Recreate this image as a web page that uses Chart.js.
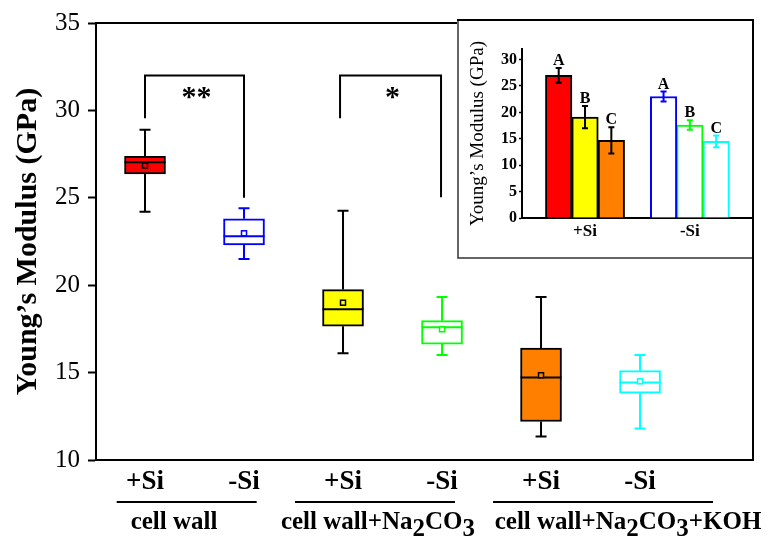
<!DOCTYPE html>
<html>
<head>
<meta charset="utf-8">
<script src="https://cdn.jsdelivr.net/npm/chart.js@4.4.1/dist/chart.umd.min.js"></script>
<style>
    html, body { margin: 0; padding: 0; background: #fff; }
    #wrap { position: relative; width: 767px; height: 540px; }
    #mainChart { position: absolute; left: 0; top: 0; }
    #insetChart { position: absolute; left: 457px; top: 19px; background: #fff; }
</style>
</head>
<body>
<div id="wrap">
    <canvas id="mainChart" width="767" height="540"></canvas>
    <canvas id="insetChart" width="297" height="240"></canvas>
</div>
<script>
// ---- main box plot data ----
const boxLabels = ['+Si', '-Si', '+Si', '-Si', '+Si', '-Si'];
const boxPositions = [1, 2, 3, 4, 5, 6];
const boxMin = [24.2, 21.5, 16.1, 16.0, 11.35, 11.8];
const boxQ1 = [26.36, 22.31, 17.65, 16.63, 12.2, 13.83];
const boxMedian = [27.03, 22.8, 18.62, 17.6, 14.72, 14.43];
const boxMean = [26.85, 22.97, 19.0, 17.48, 14.85, 14.5];
const boxQ3 = [27.37, 23.8, 19.75, 17.97, 16.4, 15.11];
const boxMax = [28.9, 24.4, 24.26, 19.32, 19.32, 16.0];

const groupNames = ['cell wall', 'cell wall+Na_2CO_3', 'cell wall+Na_2CO_3+KOH'];

// significance brackets
const bracketLeft = [1, 2.97];
const bracketRight = [2, 3.99];
const bracketLeftLow = [29.55, 29.55];
const bracketTop = [32.0, 32.0];
const bracketRightLow = [25.0, 25.03];
const bracketMarks = ['**', '*'];

// ---- inset bar chart data ----
const insetGroups = ['+Si', '-Si'];
const insetPlusSi = [27.0, 19.1, 14.7];
const insetMinusSi = [23.0, 17.6, 14.5];
const insetErrPlus = [1.4, 2.1, 2.5];
const insetErrMinus = [0.95, 0.9, 1.1];
const insetLetters = ['A', 'B', 'C'];
const insetTicks = [0, 5, 10, 15, 20, 25, 30];

const plusColors = ['#ff0000', '#ffff00', '#ff8000'];
const minusColors = ['#0000ff', '#00ff00', '#00ffff'];

const SERIF = "'Liberation Serif', 'Times New Roman', serif";
Chart.defaults.font.family = SERIF;
Chart.defaults.color = '#000';

// fill / stroke per box: +Si filled with black outline, -Si hollow with coloured outline
const boxFill = [], boxStroke = [];
plusColors.forEach((c, i) => {
    boxFill.push(c, '#ffffff');
    boxStroke.push('#000000', minusColors[i]);
});

// text with "_d" subscripts
function drawRich(ctx, text, cx, cy, size) {
    const parts = text.split(/(_\d)/).filter(p => p.length);
    ctx.font = 'bold ' + size + 'px ' + SERIF;
    const widths = parts.map(p => ctx.measureText(p.startsWith('_') ? p.slice(1) : p).width);
    let x = cx - widths.reduce((a, b) => a + b, 0) / 2;
    ctx.textAlign = 'left';
    ctx.textBaseline = 'middle';
    parts.forEach((p, i) => {
        const sub = p.startsWith('_');
        ctx.fillText(sub ? p.slice(1) : p, x, sub ? cy + 7 : cy);
        x += widths[i];
    });
}

const boxPlugin = {
    id: 'boxExtras',
    afterDatasetsDraw(chart) {
        const { ctx, scales: { x, y } } = chart;
        const half = 20.5;
        ctx.save();
        boxPositions.forEach((p, i) => {
            const cx = x.getPixelForValue(p);
            ctx.strokeStyle = boxStroke[i];
            ctx.lineWidth = 2;
            ctx.beginPath();
            // whiskers
            ctx.moveTo(cx, y.getPixelForValue(boxQ3[i]));
            ctx.lineTo(cx, y.getPixelForValue(boxMax[i]));
            ctx.moveTo(cx - 5.5, y.getPixelForValue(boxMax[i]));
            ctx.lineTo(cx + 5.5, y.getPixelForValue(boxMax[i]));
            ctx.moveTo(cx, y.getPixelForValue(boxQ1[i]));
            ctx.lineTo(cx, y.getPixelForValue(boxMin[i]));
            ctx.moveTo(cx - 5.5, y.getPixelForValue(boxMin[i]));
            ctx.lineTo(cx + 5.5, y.getPixelForValue(boxMin[i]));
            // median
            ctx.moveTo(cx - half, y.getPixelForValue(boxMedian[i]));
            ctx.lineTo(cx + half, y.getPixelForValue(boxMedian[i]));
            ctx.stroke();
            // mean marker
            const my = y.getPixelForValue(boxMean[i]);
            ctx.fillStyle = boxFill[i];
            ctx.lineWidth = 1.5;
            ctx.fillRect(cx - 2.5, my - 2.5, 5, 5);
            ctx.strokeRect(cx - 2.5, my - 2.5, 5, 5);
        });
        ctx.restore();
    },
    afterDraw(chart) {
        const { ctx, chartArea: a, scales: { x, y } } = chart;
        ctx.save();
        ctx.strokeStyle = '#000';
        ctx.lineWidth = 2;
        // top and right frame
        ctx.beginPath();
        ctx.moveTo(a.left, a.top);
        ctx.lineTo(a.right, a.top);
        ctx.lineTo(a.right, a.bottom);
        ctx.stroke();

        // brackets with stars
        bracketMarks.forEach((m, i) => {
            const x1 = x.getPixelForValue(bracketLeft[i]);
            const x2 = x.getPixelForValue(bracketRight[i]);
            const yt = y.getPixelForValue(bracketTop[i]);
            ctx.beginPath();
            ctx.moveTo(x1, y.getPixelForValue(bracketLeftLow[i]));
            ctx.lineTo(x1, yt);
            ctx.lineTo(x2, yt);
            ctx.lineTo(x2, y.getPixelForValue(bracketRightLow[i]));
            ctx.stroke();
            ctx.fillStyle = '#000';
            ctx.font = 'bold 30px ' + SERIF;
            ctx.textAlign = 'center';
            ctx.textBaseline = 'alphabetic';
            ctx.fillText(m, (x1 + x2) / 2 + 2, yt + 31);
        });

        // group underlines and names
        const lineSpans = [[0.714, 2.128], [2.515, 4.131], [4.515, 6.737]];
        const nameCenters = [1.293, 3.353, 5.879];
        ctx.fillStyle = '#000';
        groupNames.forEach((g, i) => {
            ctx.beginPath();
            ctx.moveTo(x.getPixelForValue(lineSpans[i][0]), 502);
            ctx.lineTo(x.getPixelForValue(lineSpans[i][1]), 502);
            ctx.stroke();
            drawRich(ctx, g, x.getPixelForValue(nameCenters[i]), 523, 25);
        });
        ctx.restore();
    }
};

new Chart(document.getElementById('mainChart'), {
    type: 'bar',
    data: {
        datasets: [{
            data: boxPositions.map((p, i) => ({ x: p, y: [boxQ1[i], boxQ3[i]] })),
            backgroundColor: boxFill,
            borderColor: boxStroke,
            borderWidth: 2,
            borderSkipped: false,
            barThickness: 41
        }]
    },
    options: {
        responsive: false,
        animation: false,
        devicePixelRatio: 1,
        layout: { padding: { left: 0, top: 20, right: 14, bottom: 0 } },
        plugins: { legend: { display: false }, tooltip: { enabled: false } },
        scales: {
            x: {
                type: 'linear',
                min: 0.505,
                max: 7.141,
                offset: false,
                grid: { display: false, drawTicks: false },
                border: { display: true, color: '#000', width: 2 },
                afterBuildTicks: s => { s.ticks = boxPositions.map(v => ({ value: v })); },
                ticks: {
                    autoSkip: false, maxRotation: 0, padding: 6, color: '#000',
                    font: { size: 27, weight: 'bold' },
                    callback: (v, i) => boxLabels[i]
                },
                afterFit: s => { s.height = 80; }
            },
            y: {
                min: 10,
                max: 35,
                ticks: { stepSize: 5, padding: 8, color: '#000', font: { size: 25 } },
                grid: { drawOnChartArea: false, drawTicks: true, tickLength: 8, tickWidth: 2, tickColor: '#000' },
                border: { display: true, color: '#000', width: 2 },
                title: {
                    display: true, text: 'Young\u2019s Modulus (GPa)', color: '#000',
                    font: { size: 30, weight: 'bold' }, padding: { top: 10, bottom: 0 }
                },
                afterFit: s => { s.width = 96; }
            }
        }
    },
    plugins: [boxPlugin]
});

// ---- inset ----
const insetOffsets = [-0.251, 0, 0.251];

const insetPlugin = {
    id: 'insetExtras',
    afterDatasetsDraw(chart) {
        const { ctx, scales: { x, y } } = chart;
        ctx.save();
        insetLetters.forEach((letter, d) => {
            [[insetPlusSi, insetErrPlus, '#000'], [insetMinusSi, insetErrMinus, minusColors[d]]].forEach((set, g) => {
                const cx = x.getPixelForValue(g + 1 + insetOffsets[d]);
                const v = set[0][d], e = set[1][d];
                const yHi = y.getPixelForValue(v + e), yLo = y.getPixelForValue(v - e);
                ctx.strokeStyle = set[2];
                ctx.lineWidth = 2;
                ctx.beginPath();
                ctx.moveTo(cx, yLo); ctx.lineTo(cx, yHi);
                ctx.moveTo(cx - 3, yHi); ctx.lineTo(cx + 3, yHi);
                ctx.moveTo(cx - 3, yLo); ctx.lineTo(cx + 3, yLo);
                ctx.stroke();
                ctx.fillStyle = '#000';
                ctx.font = 'bold 16px ' + SERIF;
                ctx.textAlign = 'center';
                ctx.textBaseline = 'alphabetic';
                ctx.fillText(letter, cx, yHi - 3);
            });
        });
        ctx.restore();
    },
    afterDraw(chart) {
        const { ctx, width, height } = chart;
        ctx.save();
        ctx.strokeStyle = '#333';
        ctx.lineWidth = 1.5;
        ctx.beginPath();
        ctx.moveTo(1, 0); ctx.lineTo(1, height - 1); ctx.lineTo(width, height - 1);
        ctx.stroke();
        ctx.strokeStyle = '#000';
        ctx.lineWidth = 2;
        ctx.beginPath();
        ctx.moveTo(0, 1); ctx.lineTo(width - 1, 1); ctx.lineTo(width - 1, height);
        ctx.stroke();
        ctx.restore();
    }
};

new Chart(document.getElementById('insetChart'), {
    type: 'bar',
    data: {
        datasets: insetLetters.map((l, d) => ({
            data: [
                { x: 1 + insetOffsets[d], y: insetPlusSi[d] },
                { x: 2 + insetOffsets[d], y: insetMinusSi[d] }
            ],
            backgroundColor: [plusColors[d], '#ffffff'],
            borderColor: ['#000000', minusColors[d]],
            borderWidth: 2,
            borderSkipped: 'start',
            barThickness: 26.5,
            grouped: false
        }))
    },
    options: {
        responsive: false,
        animation: false,
        devicePixelRatio: 1,
        layout: { padding: { left: 0, top: 30, right: 1, bottom: 0 } },
        plugins: { legend: { display: false }, tooltip: { enabled: false } },
        scales: {
            x: {
                type: 'linear',
                min: 0.399,
                max: 2.602,
                offset: false,
                grid: { display: false, drawTicks: false },
                border: { display: true, color: '#000', width: 2 },
                afterBuildTicks: s => { s.ticks = insetGroups.map((g, i) => ({ value: i + 1 })); },
                ticks: {
                    autoSkip: false, maxRotation: 0, padding: 3, color: '#000',
                    font: { size: 17, weight: 'bold' },
                    callback: (v, i) => insetGroups[i]
                },
                afterFit: s => { s.height = 41; }
            },
            y: {
                min: 0,
                max: 32,
                afterBuildTicks: s => { s.ticks = insetTicks.map(v => ({ value: v })); },
                ticks: { padding: 2, color: '#000', font: { size: 16, weight: 'bold' } },
                grid: { drawOnChartArea: false, drawTicks: true, tickLength: 3, tickWidth: 1.5, tickColor: '#000' },
                border: { display: true, color: '#000', width: 2 },
                title: {
                    display: true, text: 'Young\u2019s Modulus (GPa)', color: '#000',
                    font: { size: 19 }, padding: { top: 10, bottom: 0 }
                },
                afterFit: s => { s.width = 65; }
            }
        }
    },
    plugins: [insetPlugin]
});
</script>
</body>
</html>
